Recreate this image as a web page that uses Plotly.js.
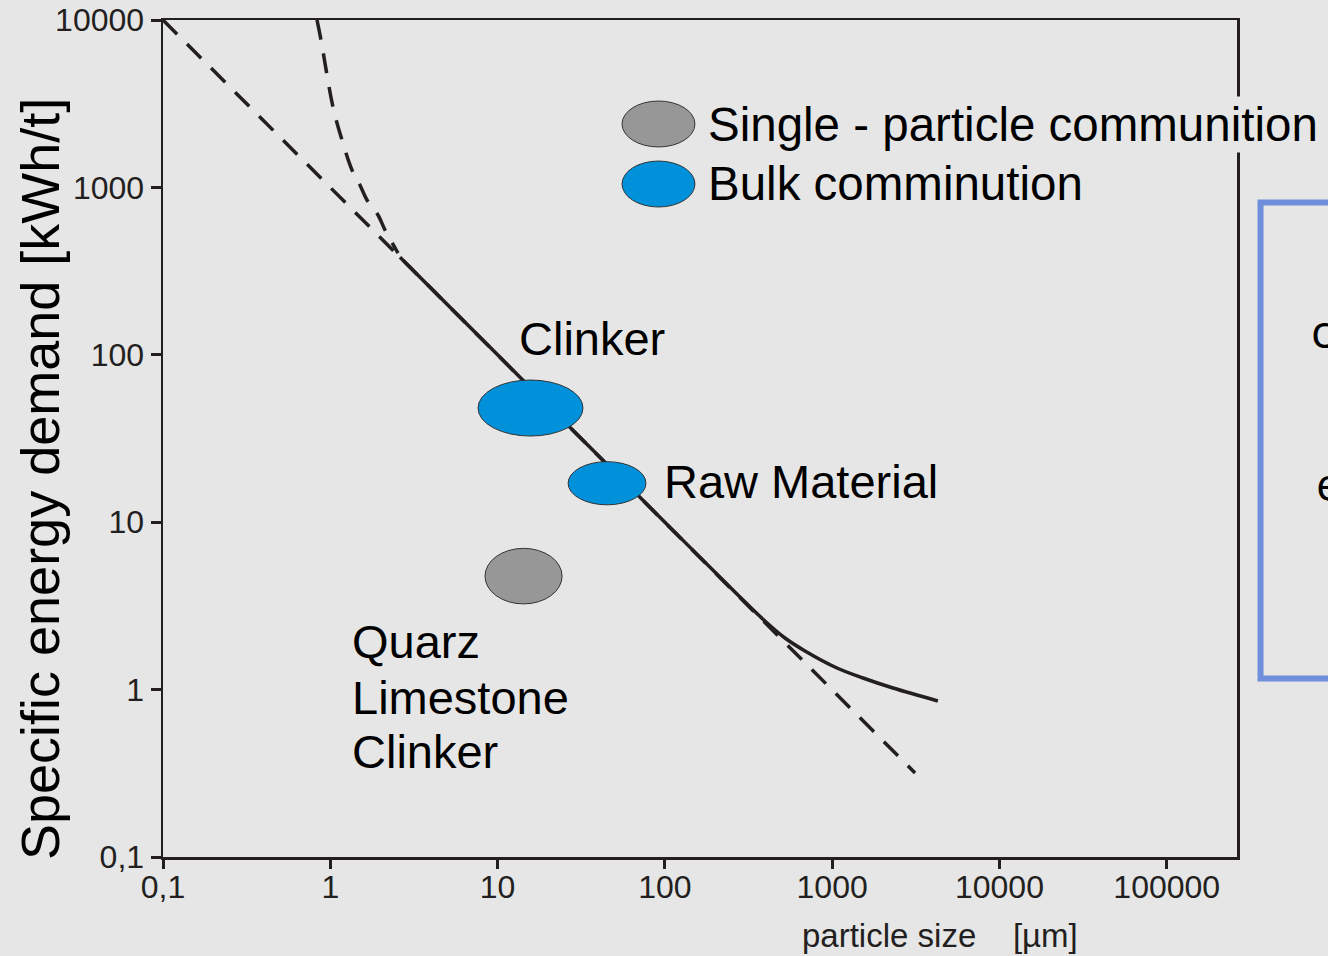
<!DOCTYPE html>
<html><head><meta charset="utf-8">
<script src="https://cdn.plot.ly/plotly-3.0.1.min.js"></script>
<style>html,body{margin:0;padding:0;background:#e6e6e6;overflow:hidden}#chart{width:1328px;height:956px}</style>
</head><body><div id="chart"></div>
<script>
// ---- tick labels ----
const xTickVals = [0.1, 1, 10, 100, 1000, 10000, 100000];
const xTickText = ['0,1', '1', '10', '100', '1000', '10000', '100000'];
const yTickVals = [0.1, 1, 10, 100, 1000, 10000];
const yTickText = ['0,1', '1', '10', '100', '1000', '10000'];

// ---- curves (particle size µm, energy kWh/t) ----
const asymX = [0.1, 3130];
const asymY = [10000, 0.318];
const steepX = [0.833, 0.88, 1.038, 1.175, 1.348, 1.504, 1.657, 1.928, 2.123, 2.54];
const steepY = [10000, 7596, 3020, 1919, 1271, 1033, 841, 684, 557, 405];
const solidX = [2.61, 10, 30, 100, 281, 396, 522, 688, 1068, 1528, 2309, 4285];
const solidY = [383, 100, 33.3, 10, 3.573, 2.569, 2.033, 1.701, 1.346, 1.173, 1.022, 0.855];

// ---- comminution regions (ellipses) ----
const blobNames = ['Clinker', 'Raw Material', 'Quarz / Limestone / Clinker'];
const blobType  = ['bulk', 'bulk', 'single'];
const blobXMin = [7.64, 26.4, 8.41];
const blobXMax = [32.4, 77.1, 24.3];
const blobYMin = [32.7, 12.7, 3.25];
const blobYMax = [70.7, 23.0, 6.98];

// ---- legend ----
const legendLabels = ['Single - particle communition', 'Bulk comminution'];
const legendTypes = ['single', 'bulk'];

const INK = '#231f20';
const FONT = 'Liberation Sans, Arial, sans-serif';
const fill = {bulk: '#0091da', single: '#979797'};

const lineStyle = (dash) => ({color: INK, width: 3.5, dash: dash});
const traces = [
  {x: asymX, y: asymY, mode: 'lines', line: lineStyle('20px,14px'), hoverinfo: 'skip'},
  {x: steepX, y: steepY, mode: 'lines', line: Object.assign(lineStyle('20px,14px'), {shape: 'spline'}), hoverinfo: 'skip'},
  {x: solidX, y: solidY, mode: 'lines', line: Object.assign(lineStyle('solid'), {shape: 'spline'}), hoverinfo: 'skip'}
];

const shapes = blobNames.map((n, i) => ({
  type: 'circle', xref: 'x', yref: 'y',
  x0: blobXMin[i], x1: blobXMax[i], y0: blobYMin[i], y1: blobYMax[i],
  fillcolor: fill[blobType[i]], line: {color: '#333333', width: 1}, layer: 'above'
}));

// legend ellipses (paper coords)
const legY = [[0.8483, 0.9032], [0.7766, 0.8315]];
legendTypes.forEach((t, i) => shapes.push({
  type: 'circle', xref: 'paper', yref: 'paper',
  x0: 0.4274, x1: 0.4953, y0: legY[i][0], y1: legY[i][1],
  fillcolor: fill[t], line: {color: '#333333', width: 1}
}));
// blue frame on right
shapes.push({type: 'rect', xref: 'paper', yref: 'paper', x0: 1.0219, x1: 1.11, y0: 0.2133, y1: 0.782,
  line: {color: '#6f8fdc', width: 6}, fillcolor: 'rgba(0,0,0,0)'});

const big = {family: FONT, size: 47, color: '#000'};
const annotations = [
  {text: legendLabels[0], xref: 'paper', yref: 'paper', x: 0.5056, y: 0.8757, xanchor: 'left', yanchor: 'middle', showarrow: false, font: {family: FONT, size: 47.5, color: '#000'}, bgcolor: '#e6e6e6'},
  {text: legendLabels[1], xref: 'paper', yref: 'paper', x: 0.5056, y: 0.8041, xanchor: 'left', yanchor: 'middle', showarrow: false, font: {family: FONT, size: 47.5, color: '#000'}},
  {text: 'Clinker', xref: 'x', yref: 'y', x: 1.114, y: 2.100, xanchor: 'left', yanchor: 'middle', showarrow: false, font: big},
  {text: 'Raw Material', xref: 'x', yref: 'y', x: 1.983, y: 1.246, xanchor: 'left', yanchor: 'middle', showarrow: false, font: big},
  {text: 'Quarz', xref: 'x', yref: 'y', x: 0.118, y: 0.2844, xanchor: 'left', yanchor: 'middle', showarrow: false, font: big},
  {text: 'Limestone', xref: 'x', yref: 'y', x: 0.118, y: -0.0442, xanchor: 'left', yanchor: 'middle', showarrow: false, font: big},
  {text: 'Clinker', xref: 'x', yref: 'y', x: 0.118, y: -0.3668, xanchor: 'left', yanchor: 'middle', showarrow: false, font: big},
  {text: 'Specific energy demand [kWh/t]', xref: 'paper', yref: 'paper', x: -0.1145, y: 0.4516, xanchor: 'center', yanchor: 'middle', textangle: -90, showarrow: false, font: {family: FONT, size: 54, color: '#000'}},
  {text: 'particle size    [µm]', xref: 'paper', yref: 'paper', x: 0.5931, y: -0.0932, xanchor: 'left', yanchor: 'middle', showarrow: false, font: {family: FONT, size: 33, color: INK}},
  {text: 'c', xref: 'paper', yref: 'paper', x: 1.0671, y: 0.6296, xanchor: 'left', yanchor: 'middle', showarrow: false, font: {family: 'Open Sans, sans-serif', size: 46, color: '#000'}},
  {text: 'e', xref: 'paper', yref: 'paper', x: 1.0717, y: 0.4468, xanchor: 'left', yanchor: 'middle', showarrow: false, font: {family: 'Open Sans, sans-serif', size: 46, color: '#000'}}
];

const axisCommon = {
  type: 'log', showgrid: false, zeroline: false, showline: true, mirror: true,
  linecolor: INK, linewidth: 2.5, ticks: 'outside', tickwidth: 3, tickcolor: INK,
  tickfont: {family: FONT, size: 32, color: INK}
};

const layout = {
  width: 1328, height: 956,
  margin: {l: 163, r: 91, t: 20, b: 99, pad: 0},
  paper_bgcolor: '#e6e6e6', plot_bgcolor: '#e6e6e6',
  showlegend: false,
  xaxis: Object.assign({}, axisCommon, {range: [-1, 5.42], tickvals: xTickVals, ticktext: xTickText, ticklen: 9, ticklabelstandoff: -9}),
  yaxis: Object.assign({}, axisCommon, {range: [-1, 4], tickvals: yTickVals, ticktext: yTickText, ticklen: 10}),
  shapes: shapes,
  annotations: annotations
};

Plotly.newPlot('chart', traces, layout, {staticPlot: true, displayModeBar: false});
</script></body></html>
